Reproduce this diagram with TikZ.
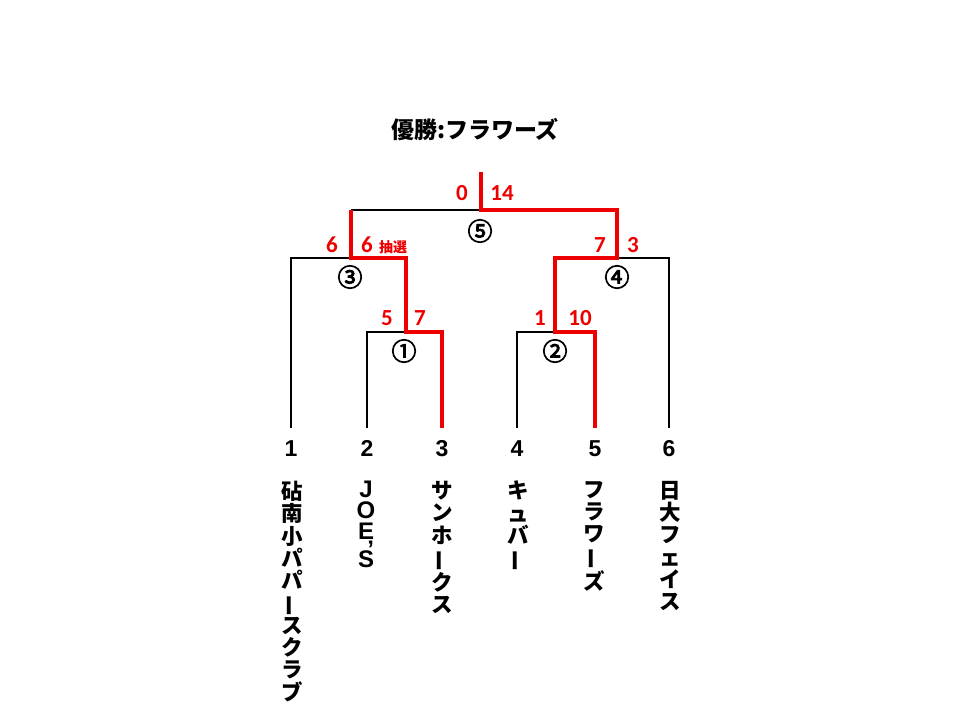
\documentclass[tikz,border=0pt]{standalone}
\usepackage{fontspec}
\usepackage{graphicx}
\newfontfamily\jp{Noto Sans CJK JP}
\newfontfamily\jpc{Noto Sans CJK JP}[FakeBold=3.5]
\newfontfamily\arl{Liberation Sans}
\newfontfamily\cbr{Carlito}
\definecolor{winred}{RGB}{238,0,0}
\newcommand\vbar{\rotatebox[origin=c]{90}{ー}}
\tikzset{
  blk/.style={line width=2.8pt, black, line join=miter, line cap=butt},
  rd/.style={line width=3.8pt, winred, line join=miter, line cap=butt},
  score/.style={inner sep=0pt, anchor=base, text=winred, font=\cbr\bfseries\fontsize{23}{26}\selectfont},
  seed/.style={inner sep=0pt, anchor=base, font=\arl\bfseries\fontsize{23}{26}\selectfont},
  circ/.style={inner sep=0pt, font=\jpc\fontsize{25}{28}\selectfont},
  team/.style={inner sep=0pt, anchor=north, align=center, font=\jp\bfseries\fontsize{21.5}{22.3}\selectfont},
}
\begin{document}
\begin{tikzpicture}[x=1pt,y=-1pt]
\useasboundingbox (0,0) rectangle (960,720);
% coordinates
\coordinate (top) at (481,172);
\coordinate (FL) at (351,210);
\coordinate (FM) at (481,210);
\coordinate (FR) at (617,210);
\coordinate (S3L) at (291,258);
\coordinate (S3M) at (351,258);
\coordinate (S3R) at (406,258);
\coordinate (S4L) at (555,258);
\coordinate (S4M) at (617,258);
\coordinate (S4R) at (669,258);
\coordinate (M1L) at (367,332);
\coordinate (M1M) at (406,332);
\coordinate (M1R) at (442,332);
\coordinate (M2L) at (517,332);
\coordinate (M2M) at (555,332);
\coordinate (M2R) at (595,332);
\coordinate (T1) at (291,428);
\coordinate (T2) at (367,428);
\coordinate (T3) at (442,428);
\coordinate (T4) at (517,428);
\coordinate (T5) at (595,428);
\coordinate (T6) at (669,428);
% black lines
\draw[blk] (FL) -- (FM);
\draw[blk] (T1) -- (S3L) -- (S3M);
\draw[blk] (T2) -- (M1L) -- (M1M);
\draw[blk] (S4M) -- (S4R) -- (T6);
\draw[blk] (T4) -- (M2L) -- (M2M);
% red lines
\draw[rd] (FL) -- (S3M) -- (S3R) -- (M1M) -- (M1R) -- (T3);
\draw[rd] (top) -- (FM) -- (FR) -- (S4M) -- (S4L) -- (M2M) -- (M2R) -- (T5);
% title
\node[inner sep=0pt, font=\jp\bfseries\fontsize{23}{25}\selectfont] (title) at (475,130) {優勝:フラワーズ};
% scores
\node[score] (sF1) at (462,200) {0};
\node[score] (sF2) at (502,200) {14};
\node[score] (sA1) at (332,252) {6};
\node[score] (sA2) at (367,252) {6};
\node[inner sep=0pt, text=winred, font=\jp\bfseries\fontsize{14}{16}\selectfont] (lot) at (393,247) {抽選};
\node[score] (sB1) at (600,252) {7};
\node[score] (sB2) at (633,252) {3};
\node[score] (sC1) at (387,325) {5};
\node[score] (sC2) at (420,325) {7};
\node[score] (sD1) at (540,325) {1};
\node[score] (sD2) at (580,325) {10};
% match numbers
\node[circ] (m5) at (480,231) {⑤};
\node[circ] (m3) at (350,277) {③};
\node[circ] (m4) at (617,277) {④};
\node[circ] (m1) at (404,351) {①};
\node[circ] (m2) at (555,351) {②};
% seeds
\node[seed] (n1) at (291,456) {1};
\node[seed] (n2) at (367,456) {2};
\node[seed] (n3) at (442,456) {3};
\node[seed] (n4) at (517,456) {4};
\node[seed] (n5) at (595,456) {5};
\node[seed] (n6) at (669,456) {6};
% team names
\node[team] (t1) at (292,481) {砧\\南\\小\\パ\\パ\\\vbar\\ス\\ク\\ラ\\ブ};
\node[inner sep=0pt, anchor=north, align=center, font=\arl\bfseries\fontsize{24}{21}\selectfont] (t2) at (366,481) {J\\O\\E\\[7pt]S\llap{\smash{\raisebox{10pt}{’}}}};
\node[team] (t3) at (442,481) {サ\\ン\\ホ\\\vbar\\ク\\ス};
\node[team] (t4) at (518,481) {キ\\ュ\\バ\\\vbar};
\node[team] (t5) at (594,481) {フ\\ラ\\ワ\\\vbar\\ズ};
\node[team] (t6) at (670,481) {日\\大\\フ\\ェ\\イ\\ス};
\end{tikzpicture}
\end{document}
